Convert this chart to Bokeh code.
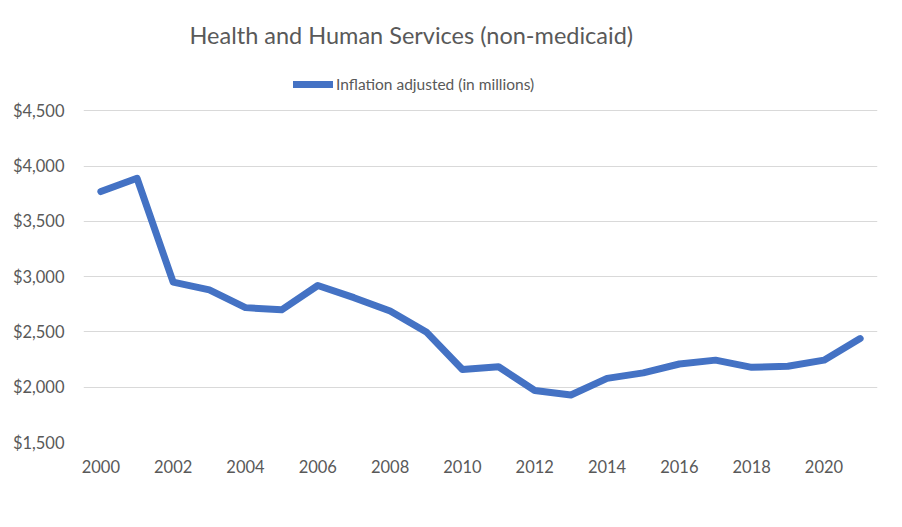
from bokeh.plotting import figure
from bokeh.models import (ColumnDataSource, Range1d, FixedTicker, NumeralTickFormatter,
                          Legend, LegendItem, Label)
from bokeh.embed import file_html
from bokeh.resources import INLINE

years = list(range(2000, 2022))
values = [3770, 3890, 2950, 2880, 2720, 2700, 2920, 2810, 2690, 2500, 2160,
          2185, 1970, 1930, 2080, 2130, 2210, 2245, 2180, 2190, 2245, 2440]
x_ticks = list(range(2000, 2021, 2))
y_ticks = [1500, 2000, 2500, 3000, 3500, 4000, 4500]
title_text = "Health and Human Services (non-medicaid)"
series_name = "Inflation adjusted (in millions)"

FONT = "Lato"
GREY = "#595959"

# frame extends to the top of the canvas so title/legend can sit inside it
p = figure(width=894, height=515, output_backend="svg", toolbar_location=None,
           x_range=Range1d(1999.52, 2021.48), y_range=Range1d(1500, 5498),
           min_border_left=83, min_border_right=17, min_border_top=0,
           min_border_bottom=73)
p.outline_line_color = None
p.background_fill_color = "white"
p.border_fill_color = "white"

src = ColumnDataSource(dict(x=years, y=values))
r = p.line("x", "y", source=src, line_color="#4472C4", line_width=7,
           line_join="round", line_cap="round")

p.xaxis.ticker = FixedTicker(ticks=x_ticks)
p.yaxis.ticker = FixedTicker(ticks=y_ticks)
p.yaxis.formatter = NumeralTickFormatter(format="$0,0")
for ax in (p.xaxis, p.yaxis):
    ax.axis_line_color = None
    ax.major_tick_line_color = None
    ax.minor_tick_line_color = None
    ax.major_label_text_font = FONT
    ax.major_label_text_font_size = "16.5px"
    ax.major_label_text_color = GREY
p.yaxis.major_label_standoff = 13
p.xaxis.major_label_standoff = 11
p.xgrid.grid_line_color = None
p.ygrid.grid_line_color = "#D9D9D9"
p.ygrid.grid_line_width = 1.2
p.ygrid.bounds = (y_ticks[0], y_ticks[-1])

title = Label(x=106, y=408, x_units="screen", y_units="screen",
              text=title_text, text_align="left", text_baseline="alphabetic",
              text_font=FONT, text_font_size="23.5px", text_color=GREY)
p.add_layout(title)

legend = Legend(items=[LegendItem(label=series_name, renderers=[r])],
                location=(210, 349), orientation="horizontal",
                glyph_width=40, glyph_height=16, label_standoff=3,
                padding=0, margin=0, border_line_alpha=0,
                background_fill_alpha=0,
                label_text_font=FONT, label_text_font_size="15.5px",
                label_text_color=GREY)
p.add_layout(legend, "center")

open("out.html", "w").write(file_html(p, INLINE))
